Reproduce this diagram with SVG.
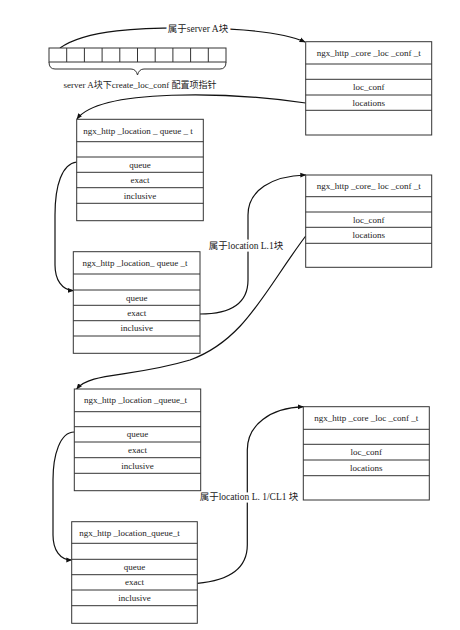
<svg xmlns="http://www.w3.org/2000/svg" width="460" height="630" viewBox="0 0 460 630">
<style>
.box{fill:#fff;stroke:#333;stroke-width:1}
.row{stroke:#333;stroke-width:1}
.t{font-family:"Liberation Serif","Noto Sans CJK SC",serif;font-size:9px;fill:#222;text-anchor:middle;dominant-baseline:central}
.lbl{font-family:"Liberation Serif","Noto Sans CJK SC",serif;font-size:9.5px;fill:#222;text-anchor:middle;dominant-baseline:central;stroke:#fff;stroke-width:5;paint-order:stroke}
.c{fill:none;stroke:#111;stroke-width:1.2}
</style>
<defs>
<marker id="ah" viewBox="0 0 10 10" refX="9" refY="5" markerWidth="6" markerHeight="6" orient="auto" markerUnits="userSpaceOnUse">
<path d="M0,1 L10,5 L0,9 z" fill="#111"/>
</marker>
</defs>
<rect width="460" height="630" fill="#fff"/>

<g id="connectors">
<path class="c" d="M60 48 C85 30 140 27 200 28 C250 29 285 33 305 42" marker-end="url(#ah)"/>
<path class="c" d="M305.7 103 C230 92 100 88 77 119" marker-end="url(#ah)"/>
<path class="c" d="M76.7 162 C62 164 55 185 55 215 L55 265 C55 280 62 290 73.3 290.7" marker-end="url(#ah)"/>
<path class="c" d="M200 314 C235 314 248 300 248 280 L248 215 C248 190 272 176 305.7 175" marker-end="url(#ah)"/>
<path class="c" d="M305.7 236 C265 290 245 340 190 360 C130 378 90 372 76.7 389" marker-end="url(#ah)"/>
<path class="c" d="M74.3 432 C60 432 53 455 53 480 L53 535 C53 550 60 560 71.7 560" marker-end="url(#ah)"/>
<path class="c" d="M197.3 583.3 C235 580 247.3 565 247.3 545 L247.3 450 C247.3 425 270 408 303.3 406.7" marker-end="url(#ah)"/>
<text class="lbl" x="198" y="29">属于server A块</text>
<text class="lbl" x="246" y="246">属于location L.1块</text>
<text class="lbl" x="249" y="497">属于location L. 1/CL1 块</text>
</g>

<g id="array">
<rect class="box" x="49" y="48" width="177" height="14"/>
<path class="row" d="M66.7 48V62M84.4 48V62M102.1 48V62M119.8 48V62M137.5 48V62M155.2 48V62M172.9 48V62M190.6 48V62M208.3 48V62"/>
<path fill="none" stroke="#333" stroke-width="1" d="M49 62 Q49 69 55 69 L131 69 Q136 69 137.5 75 Q139 69 144 69 L220 69 Q226 69 226 62"/>
<text class="t" x="140" y="85">server A块下create_loc_conf 配置项指针</text>
</g>

<g id="core1">
<rect class="box" x="305.7" y="41.7" width="126" height="93.3"/>
<path class="row" d="M305.7 64H431.7M305.7 79.3H431.7M305.7 95H431.7M305.7 110.3H431.7"/>
<text class="t" x="368.7" y="52.8">ngx_http _core _loc _conf _t</text>
<text class="t" x="368.7" y="87.2">loc_conf</text>
<text class="t" x="368.7" y="102.7">locations</text>
</g>

<g id="queue1">
<rect class="box" x="76.7" y="119.3" width="126.6" height="101.4"/>
<path class="row" d="M76.7 141.7H203.3M76.7 157H203.3M76.7 172.3H203.3M76.7 187.7H203.3M76.7 203.3H203.3"/>
<text class="t" x="138" y="130.5">ngx_http _location _ queue _ t</text>
<text class="t" x="140" y="164.7">queue</text>
<text class="t" x="140" y="180">exact</text>
<text class="t" x="140" y="195.5">inclusive</text>
</g>

<g id="core2">
<rect class="box" x="305.7" y="175" width="126" height="92.3"/>
<path class="row" d="M305.7 196.7H431.7M305.7 212H431.7M305.7 227.3H431.7M305.7 243.3H431.7"/>
<text class="t" x="368.7" y="185.8">ngx_http _core_ loc _conf _t</text>
<text class="t" x="368.7" y="219.7">loc_conf</text>
<text class="t" x="368.7" y="235.3">locations</text>
</g>

<g id="queue2">
<rect class="box" x="73.3" y="251.7" width="126.7" height="101.6"/>
<path class="row" d="M73.3 274H200M73.3 290H200M73.3 305.3H200M73.3 320.7H200M73.3 336H200"/>
<text class="t" x="135" y="262.8">ngx_http _location_ queue _t</text>
<text class="t" x="136.7" y="297.7">queue</text>
<text class="t" x="136.7" y="313">exact</text>
<text class="t" x="136.7" y="328.3">inclusive</text>
</g>

<g id="queue3">
<rect class="box" x="74.3" y="389" width="126.4" height="101.7"/>
<path class="row" d="M74.3 411.7H200.7M74.3 426.7H200.7M74.3 442H200.7M74.3 457.7H200.7M74.3 473.3H200.7"/>
<text class="t" x="135.5" y="400.3">ngx_http _location _queue_t</text>
<text class="t" x="137.5" y="434.3">queue</text>
<text class="t" x="137.5" y="449.8">exact</text>
<text class="t" x="137.5" y="465.5">inclusive</text>
</g>

<g id="core3">
<rect class="box" x="303.3" y="406.7" width="126" height="93.3"/>
<path class="row" d="M303.3 429.3H429.3M303.3 444.3H429.3M303.3 460H429.3M303.3 475.7H429.3"/>
<text class="t" x="366.3" y="418">ngx_http _core _loc _conf _t</text>
<text class="t" x="366.3" y="452.2">loc_conf</text>
<text class="t" x="366.3" y="467.8">locations</text>
</g>

<g id="queue4">
<rect class="box" x="71.7" y="521.7" width="125.6" height="101.6"/>
<path class="row" d="M71.7 543.3H197.3M71.7 559.3H197.3M71.7 574.7H197.3M71.7 590H197.3M71.7 605.7H197.3"/>
<text class="t" x="129.5" y="532.5">ngx_http _location_queue_t</text>
<text class="t" x="134.5" y="567">queue</text>
<text class="t" x="134.5" y="582.3">exact</text>
<text class="t" x="134.5" y="597.8">inclusive</text>
</g>
</svg>
